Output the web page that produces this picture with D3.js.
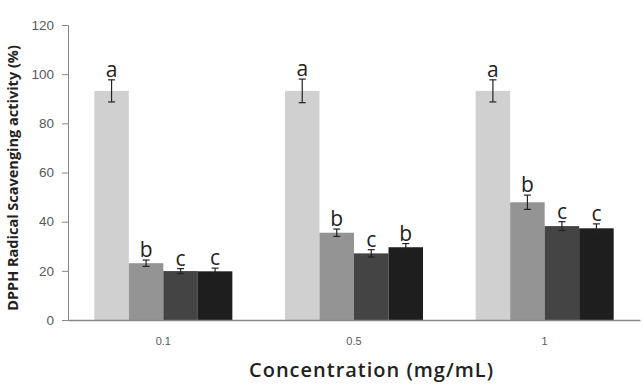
<!DOCTYPE html>
<html>
<head>
<meta charset="utf-8">
<script src="https://cdn.jsdelivr.net/npm/d3@7"></script>
<style>
  body { margin: 0; background: #fff; }
  svg { display: block; font-family: "Open Sans", "Noto Sans", sans-serif; }
</style>
</head>
<body>
<div id="chart"></div>
<script>
// concentrations (mg/mL)
var categories = ['0.1', '0.5', '1']
var seriesNames = ['s1', 's2', 's3', 's4']

// mean values per series, one per concentration
var s1 = [93.2, 93.2, 93.2]
var s2 = [23.1, 35.5, 47.9]
var s3 = [19.9, 27.1, 38.2]
var s4 = [19.8, 29.6, 37.3]

// error (+/-)
var e1 = [4.5, 4.8, 4.5]
var e2 = [1.3, 1.5, 2.9]
var e3 = [1.0, 1.5, 1.8]
var e4 = [1.3, 1.5, 1.8]

// significance letters
var l1 = ['a', 'a', 'a']
var l2 = ['b', 'b', 'b']
var l3 = ['c', 'c', 'c']
var l4 = ['c', 'b', 'c']

var yTicks = [0, 20, 40, 60, 80, 100, 120]
var colors = ['#d0d0d0', '#949494', '#444444', '#1e1e1e']

var values = [s1, s2, s3, s4]
var errors = [e1, e2, e3, e4]
var letters = [l1, l2, l3, l4]

var width = 643, height = 384
var margin = { top: 25, right: 3, bottom: 64, left: 68 }

var svg = d3.select('#chart').append('svg')
  .attr('width', width)
  .attr('height', height)

var y = d3.scaleLinear()
  .domain([0, 120])
  .range([height - margin.bottom, margin.top])

var x0 = d3.scaleBand()
  .domain(categories)
  .range([margin.left, width - margin.right])
  .paddingInner(0.276)
  .paddingOuter(0.138)

var x1 = d3.scaleBand()
  .domain(seriesNames)
  .range([0, x0.bandwidth()])

// flatten into rows for drawing
var rows = []
categories.forEach(function(c, i) {
  seriesNames.forEach(function(s, j) {
    rows.push({ cat: c, ser: s, idx: j, v: values[j][i], e: errors[j][i], l: letters[j][i] })
  })
})

var groups = svg.append('g')

groups.selectAll('rect')
  .data(rows)
  .enter()
    .append('rect')
    .attr('x', function(d) { return x0(d.cat) + x1(d.ser) })
    .attr('y', function(d) { return y(d.v) })
    .attr('width', x1.bandwidth())
    .attr('height', function(d) { return y(0) - y(d.v) })
    .attr('fill', function(d) { return colors[d.idx] })

// error bars
var err = svg.append('g')
  .attr('stroke', '#222')
  .attr('stroke-width', 1.2)

rows.forEach(function(d) {
  var cx = x0(d.cat) + x1(d.ser) + x1.bandwidth() / 2
  err.append('line')
    .attr('x1', cx).attr('x2', cx)
    .attr('y1', y(d.v + d.e)).attr('y2', y(d.v - d.e))
  err.append('line')
    .attr('x1', cx - 3.5).attr('x2', cx + 3.5)
    .attr('y1', y(d.v + d.e)).attr('y2', y(d.v + d.e))
  err.append('line')
    .attr('x1', cx - 3.5).attr('x2', cx + 3.5)
    .attr('y1', y(d.v - d.e)).attr('y2', y(d.v - d.e))
})

// letters
svg.append('g').selectAll('text')
  .data(rows)
  .enter()
    .append('text')
    .attr('x', function(d) { return x0(d.cat) + x1(d.ser) + x1.bandwidth() / 2 })
    .attr('y', function(d) { return y(d.v + d.e) - 3 })
    .attr('text-anchor', 'middle')
    .attr('font-size', 21)
    .attr('fill', '#222')
    .text(function(d) { return d.l })

// axes
var yAxis = d3.axisLeft(y)
  .tickValues(yTicks)
  .tickSize(6)
  .tickPadding(8)

var yGuide = svg.append('g')
  .attr('transform', 'translate(' + margin.left + ',0)')
  .call(yAxis)
yGuide.select('.domain').attr('stroke', '#868686')
yGuide.selectAll('.tick line').attr('stroke', '#868686')
yGuide.selectAll('.tick text').attr('fill', '#595959').attr('font-size', 13.5)

var xAxis = d3.axisBottom(x0)
  .tickSize(0)
  .tickPadding(17)

var xGuide = svg.append('g')
  .attr('transform', 'translate(0,' + y(0) + ')')
  .call(xAxis)
xGuide.select('.domain').attr('stroke', '#868686').attr('stroke-width', 1.5)
xGuide.selectAll('.tick text').attr('fill', '#595959').attr('font-size', 11)

// titles
svg.append('text')
  .attr('transform', 'translate(18,' + 178 + ') rotate(-90)')
  .attr('text-anchor', 'middle')
  .attr('font-size', 14.5)
  .attr('font-weight', 'bold')
  .attr('fill', '#222')
  .text('DPPH Radical Scavenging activity (%)')

svg.append('text')
  .attr('x', 371)
  .attr('y', 377)
  .attr('text-anchor', 'middle')
  .attr('font-size', 20)
  .attr('font-weight', 600)
  .attr('textLength', 244)
  .attr('lengthAdjust', 'spacing')
  .attr('fill', '#222')
  .text('Concentration (mg/mL)')
</script>
</body>
</html>
